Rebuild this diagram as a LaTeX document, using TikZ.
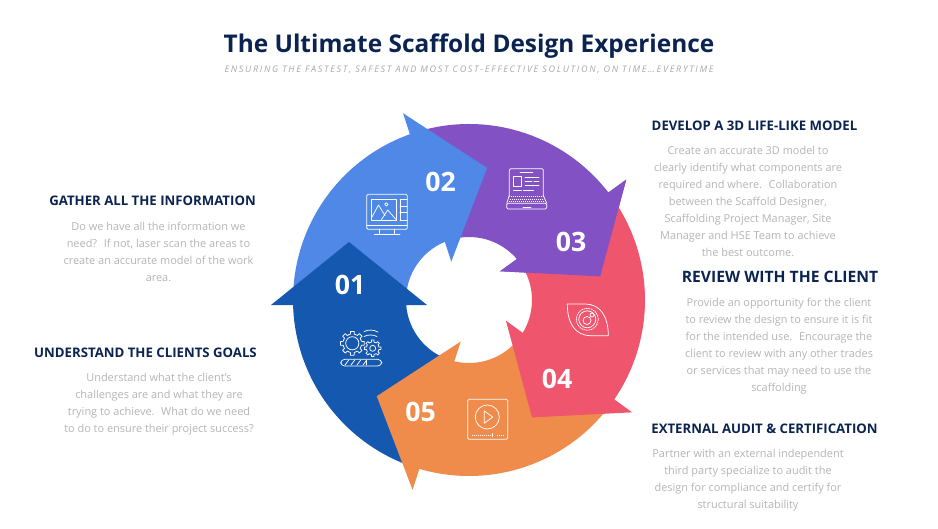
\documentclass[tikz,border=0pt]{standalone}
\usepackage{fontspec}
\setmainfont{Open Sans}
\definecolor{navy}{HTML}{0B2350}
\definecolor{paragrey}{HTML}{B4B4B4}
\definecolor{subgrey}{HTML}{A8A8A8}
\definecolor{stepone}{HTML}{1558B0}
\definecolor{steptwo}{HTML}{4F88E6}
\definecolor{stepthree}{HTML}{8252C4}
\definecolor{stepfour}{HTML}{F0556E}
\definecolor{stepfive}{HTML}{F08C4B}
\tikzset{
  heading/.style={text=navy,font=\fontsize{9.9}{13}\selectfont\bfseries,inner sep=0pt},
  para/.style={text=paragrey,font=\fontsize{8.2}{12.75}\selectfont,align=center,inner sep=0pt},
  stepno/.style={text=white,font=\fontsize{20}{24}\selectfont\bfseries,inner sep=0pt},
  icon/.style={draw=white,line width=0.55pt,line join=round,line cap=round},
  keys/.style={icon,dash pattern=on 0.6pt off 0.9pt,line cap=butt}
}
\begin{document}
\begin{tikzpicture}[x=0.75pt,y=-0.75pt]
  \useasboundingbox (0,0) rectangle (938,528);
  % title
  \node[text=navy,font=\fontsize{18.3}{24}\selectfont\bfseries,inner sep=0pt] (title) at (469,46.5) {The Ultimate Scaffold Design Experience};
  \node[text=subgrey,font=\fontsize{6.8}{8}\selectfont\itshape,inner sep=0pt] (subtitle) at (469,69.5) {\addfontfeature{LetterSpace=18.5}ENSURING THE FASTEST, SAFEST AND MOST COST-EFFECTIVE SOLUTION, ON TIME…EVERYTIME};
  % ring, drawn tail first so every head lies over the next arrow
  \foreach \col/\ang in {stepthree/144,steptwo/72,stepone/0,stepfive/-72,stepfour/216} {
    \begin{scope}[shift={(469,300)},rotate=-\ang]
      \fill[\col] (-120,-58) -- (-42,5) -- (175.45:63) arc[start angle=175.45,end angle=108,radius=63]
        -- (108:176) arc[start angle=108,end angle=178.37,radius=176] -- (-198,5) -- cycle;
    \end{scope}
  }
  \fill[stepthree,shift={(469,300)},rotate=-144] (-120,-58) -- (-42,5) -- (-198,5) -- cycle;
  % numbers
  \node[stepno] (no1) at (350,284.5) {01};
  \node[stepno] (no2) at (440.5,181.5) {02};
  \node[stepno] (no3) at (571,241.5) {03};
  \node[stepno] (no4) at (557,378.5) {04};
  \node[stepno] (no5) at (420.5,411.5) {05};
  % monitor icon
  \draw[icon,rounded corners=1pt] (366.7,194.3) rectangle (407.3,229.3);
  \draw[icon] (366.7,225) -- (407.3,225);
  \draw[icon] (371.7,199.3) rectangle (396,220);
  \draw[icon] (400,199.3) -- (407.3,199.3) (400,206.7) -- (407.3,206.7) (400,212.7) -- (407.3,212.7) (400,220) -- (407.3,220) (400,199.3) -- (400,220);
  \draw[icon] (371.7,217.5) -- (378.5,205) -- (385,215.5) (381.5,219.5) -- (387.7,210) -- (396,219.5);
  \draw[icon] (386.3,204.3) circle (1.7);
  \draw[icon] (379.3,229.3) -- (379.3,234) (394.3,229.3) -- (394.3,234) (374.3,234.3) -- (400,234.3);
  % laptop icon
  \draw[icon,rounded corners=1pt] (509.3,196.7) -- (509.3,168.7) -- (543.3,168.7) -- (543.3,196.7);
  \draw[icon] (509.3,195.5) -- (506.7,203.3) (543.3,195.5) -- (546.7,203.3);
  \draw[icon,rounded corners=1pt] (506.7,203.3) rectangle (546.7,209);
  \draw[icon] (523,207) -- (531,207);
  \draw[icon] (520,172.7) -- (532.7,172.7);
  \draw[icon] (513.3,176.7) rectangle (521.7,186);
  \draw[icon] (525,177.5) -- (539,177.5) (525,181.7) -- (532,181.7) (534,181.7) -- (539,181.7) (525,185.7) -- (539,185.7);
  \draw[icon] (513.5,190) -- (521.5,190) (523.5,190) -- (533.5,190);
  \draw[keys] (510.5,196.7) -- (542.5,196.7) (509.5,199.3) -- (543.5,199.3) (508.5,201.7) -- (544.5,201.7);
  % eye icon
  \draw[icon] (567.3,304) -- (585,304) .. controls (600,304) and (608.3,316) .. (608.3,335.7) -- (591,335.7) .. controls (575,335.7) and (567.3,323) .. (567.3,304) -- cycle;
  \draw[icon,dash pattern=on 1pt off 0.8pt] (587.3,319.3) circle (11);
  \draw[icon] (587.3,319.3) circle (8.5);
  \draw[icon] (587,320.5) circle (4);
  \draw[icon] (592,315) circle (2);
  % play icon
  \draw[icon,rounded corners=1pt] (467.7,399.3) rectangle (507.7,439.3);
  \draw[icon] (487.3,417) circle (12);
  \draw[icon] (484.3,411) -- (492.7,417) -- (484.3,423.3) -- cycle;
  \draw[keys] (471.7,435) -- (492,435) (497,435) -- (503.3,435);
  \draw[icon] (492.5,433.5) -- (492.5,436.5);
  % gears icon
  \draw[icon] (352.3,343.3) circle (6.6);
  \foreach \t in {0,45,...,315}
    \draw[icon,shift={(352.3,343.3)},rotate=\t] (-22.5:9.3) -- (-12:9.3) -- (-9:12) -- (9:12) -- (12:9.3) -- (22.5:9.3);
  \draw[icon] (372.7,348.3) circle (3);
  \foreach \t in {0,45,...,315}
    \draw[icon,shift={(372.7,348.3)},rotate=\t] (-22.5:6.3) -- (-12:6.3) -- (-9:8.3) -- (9:8.3) -- (12:6.3) -- (22.5:6.3);
  \draw[icon] (364,336.5) .. controls (368,334.5) and (373,334.5) .. (377,336.5);
  \draw[icon] (364,331.5) .. controls (369,329.5) and (373,329.5) .. (378,332);
  \draw[icon,rounded corners=3pt] (340.7,359.3) rectangle (381.7,366);
  \foreach \x in {345,351,357,363}
    \draw[icon] (\x,365) -- (\x+3.5,360.3);
  \draw[icon] (366,360.3) -- (366,365);
  % left column
  \node[heading] (gatherhead) at (152.5,200.5) {GATHER ALL THE INFORMATION};
  \node[para] (gathertext) at (158.5,252) {Do we have all the information we\\need?~ If not, laser scan the areas to\\create an accurate model of the work\\area.};
  \node[heading] (goalshead) at (145.5,352.5) {UNDERSTAND THE CLIENTS GOALS};
  \node[para] (goalstext) at (159,404) {Understand what the client's\\challenges are and what they are\\trying to achieve.~ What do we need\\to do to ensure their project success?};
  % right column
  \node[heading] (modelhead) at (754.5,125.5) {DEVELOP A 3D LIFE-LIKE MODEL};
  \node[para] (modeltext) at (748,201.5) {Create an accurate 3D model to\\clearly identify what components are\\required and where.~ Collaboration\\between the Scaffold Designer,\\Scaffolding Project Manager, Site\\Manager and HSE Team to achieve\\the best outcome.};
  \node[heading,font=\fontsize{11.75}{14}\selectfont\bfseries] (reviewhead) at (780,276.5) {REVIEW WITH THE CLIENT};
  \node[para] (reviewtext) at (779,346) {Provide an opportunity for the client\\to review the design to ensure it is fit\\for the intended use.~ Encourage the\\client to review with any other trades\\or services that may need to use the\\scaffolding};
  \node[heading] (audithead) at (764.5,428.5) {EXTERNAL AUDIT \& CERTIFICATION};
  \node[para] (audittext) at (748,480.5) {Partner with an external independent\\third party specialize to audit the\\design for compliance and certify for\\structural suitability};
\end{tikzpicture}
\end{document}
